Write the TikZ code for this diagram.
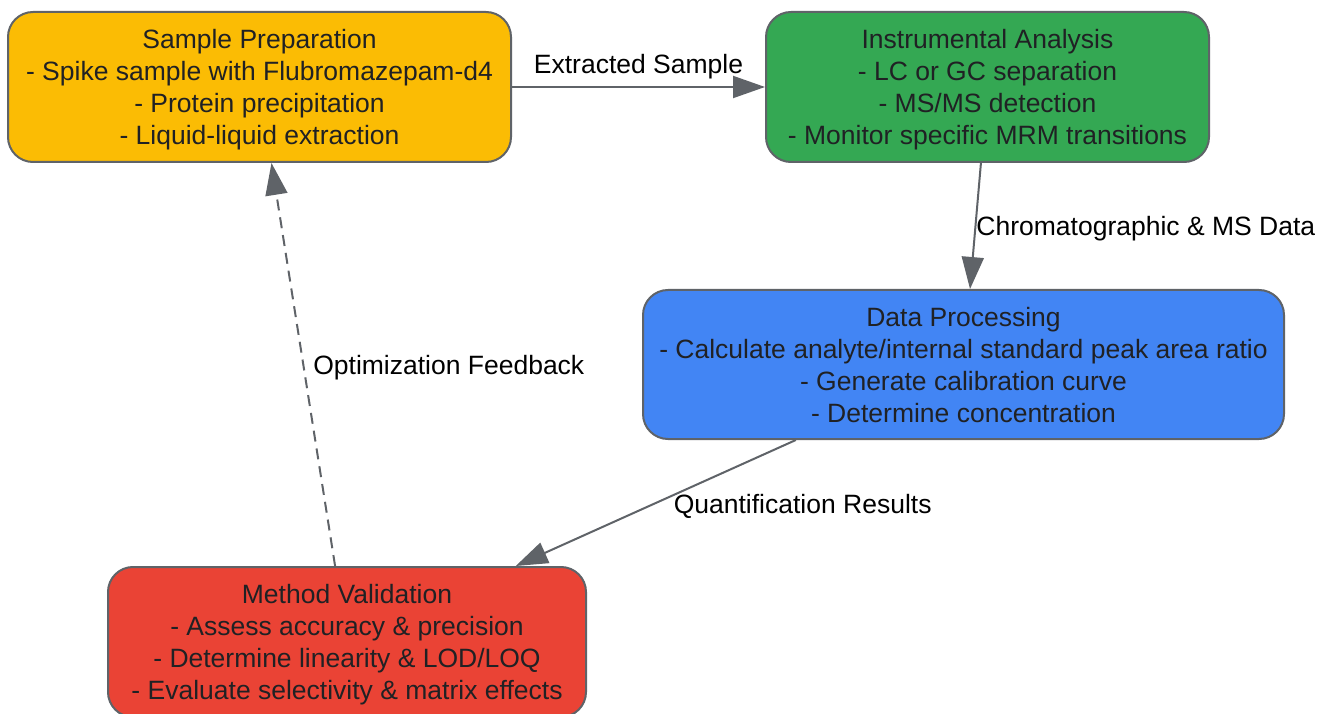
\documentclass[tikz,border=0pt]{standalone}
\usepackage{fontspec}
\setmainfont{Liberation Sans}
\usetikzlibrary{arrows.meta}
\definecolor{prepyellow}{HTML}{FBBC04}
\definecolor{instgreen}{HTML}{34A853}
\definecolor{datablue}{HTML}{4285F4}
\definecolor{validred}{HTML}{EA4335}
\definecolor{edgegray}{HTML}{5F6368}
\definecolor{inkgray}{HTML}{202124}
\tikzset{
  stage/.style={draw=edgegray,line width=2pt,rounded corners=25pt,text=inkgray,align=center,inner sep=0pt,text depth=-2pt,font=\fontsize{26.5}{32}\selectfont},
  flow/.style={draw=edgegray,line width=2pt,-{Triangle[length=32pt,width=22pt]}},
  flowlabel/.style={font=\fontsize{26.5}{32}\selectfont,text=black,inner sep=0pt}
}
\begin{document}
\begin{tikzpicture}[x=1pt,y=-1pt]
\useasboundingbox (0,0) rectangle (1326,714);
\node[stage,fill=prepyellow,minimum width=503pt,minimum height=150pt](prep)at(259.5,87){Sample Preparation\\- Spike sample with Flubromazepam-d4\\- Protein precipitation\\- Liquid-liquid extraction};
\node[stage,fill=instgreen,minimum width=443pt,minimum height=150pt](inst)at(987.5,87){Instrumental Analysis\\- LC or GC separation\\- MS/MS detection\\- Monitor specific MRM transitions};
\node[stage,fill=datablue,minimum width=641pt,minimum height=149pt](data)at(963.5,364.5){Data Processing\\- Calculate analyte/internal standard peak area ratio\\- Generate calibration curve\\- Determine concentration};
\node[stage,fill=validred,minimum width=478pt,minimum height=150pt](valid)at(347,642){Method Validation\\- Assess accuracy \& precision\\- Determine linearity \& LOD/LOQ\\- Evaluate selectivity \& matrix effects};
% edges
\draw[flow](prep)--(inst)node[midway,above=7pt,flowlabel](lblext){Extracted Sample};
\draw[flow](inst)--(data)node[midway,anchor=west,yshift=-3pt,flowlabel](lblchrom){Chromatographic \& MS Data};
\draw[flow](data)--(valid)node[midway,anchor=west,xshift=17pt,yshift=-3pt,flowlabel](lblquant){Quantification Results};
\draw[flow,dash pattern=on 11pt off 7pt](valid)--(prep)node[midway,anchor=west,xshift=9pt,yshift=-3pt,flowlabel](lblopt){Optimization Feedback};
\end{tikzpicture}
\end{document}
